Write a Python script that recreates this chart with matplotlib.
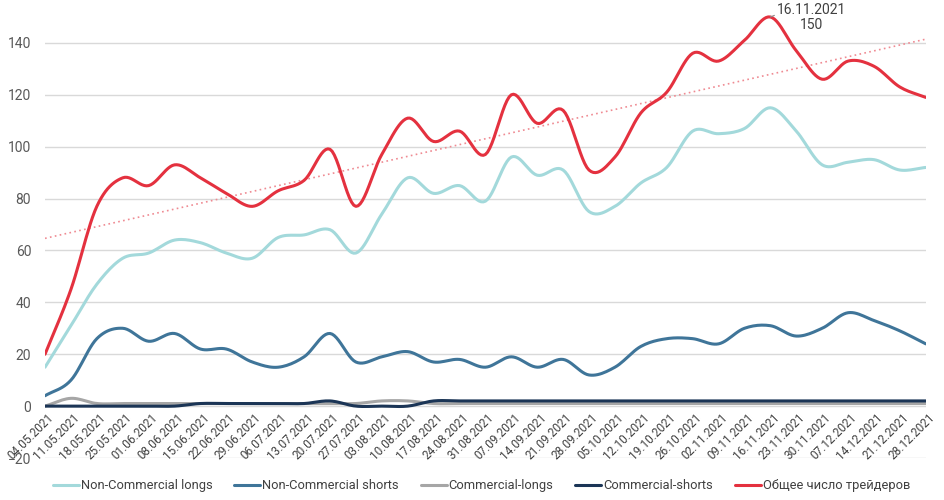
import matplotlib
matplotlib.use("Agg")
import matplotlib.pyplot as plt
import numpy as np

plt.rcParams['font.family'] = ['Roboto', 'DejaVu Sans']

# --- data ---
dates = ['04.05.2021', '11.05.2021', '18.05.2021', '25.05.2021', '01.06.2021',
         '08.06.2021', '15.06.2021', '22.06.2021', '29.06.2021', '06.07.2021',
         '13.07.2021', '20.07.2021', '27.07.2021', '03.08.2021', '10.08.2021',
         '17.08.2021', '24.08.2021', '31.08.2021', '07.09.2021', '14.09.2021',
         '21.09.2021', '28.09.2021', '05.10.2021', '12.10.2021', '19.10.2021',
         '26.10.2021', '02.11.2021', '09.11.2021', '16.11.2021', '23.11.2021',
         '30.11.2021', '07.12.2021', '14.12.2021', '21.12.2021', '28.12.2021']

nc_longs = [15, 31, 47, 57, 59, 64, 63, 59, 57, 65, 66, 68, 59, 74, 88, 82, 85, 79,
            96, 89, 91, 75, 77, 86, 92, 106, 105, 107, 115, 106, 93, 94, 95, 91, 92]
nc_shorts = [4, 10, 26, 30, 25, 28, 22, 22, 17, 15, 19, 28, 17, 19, 21, 17, 18, 15,
             19, 15, 18, 12, 15, 23, 26, 26, 24, 30, 31, 27, 30, 36, 33, 29, 24]
c_longs = [0, 3, 1, 1, 1, 1, 1, 1, 1, 1, 1, 1, 1, 2, 2, 1, 1, 1,
           1, 1, 1, 1, 1, 1, 1, 1, 1, 1, 1, 1, 1, 1, 1, 1, 1]
c_shorts = [0, 0, 0, 0, 0, 0, 1, 1, 1, 1, 1, 2, 0, 0, 0, 2, 2, 2,
            2, 2, 2, 2, 2, 2, 2, 2, 2, 2, 2, 2, 2, 2, 2, 2, 2]
total = [20, 45, 77, 88, 85, 93, 88, 82, 77, 83, 87, 99, 77, 97, 111, 102, 106, 97,
         120, 109, 114, 91, 96, 113, 121, 136, 133, 141, 150, 137, 126, 133, 131, 123, 119]

peak_label = '16.11.2021\n150'


def smooth(x, y, n=12):
    # Catmull-Rom curve through the points, like Excel's smoothed line
    x = np.asarray(x, float)
    y = np.asarray(y, float)
    px = np.concatenate([[2 * x[0] - x[1]], x, [2 * x[-1] - x[-2]]])
    py = np.concatenate([[2 * y[0] - y[1]], y, [2 * y[-1] - y[-2]]])
    xs, ys = [], []
    t = np.linspace(0, 1, n, endpoint=False)
    for i in range(1, len(px) - 2):
        for p, out in ((px, xs), (py, ys)):
            p0, p1, p2, p3 = p[i - 1], p[i], p[i + 1], p[i + 2]
            out.append(0.5 * (2 * p1 + (-p0 + p2) * t
                              + (2 * p0 - 5 * p1 + 4 * p2 - p3) * t ** 2
                              + (-p0 + 3 * p1 - 3 * p2 + p3) * t ** 3))
    xs = np.concatenate(xs + [[x[-1]]])
    ys = np.concatenate(ys + [[y[-1]]])
    return xs, ys


fig = plt.figure(figsize=(9.44, 5), dpi=100)
ax = fig.add_axes([0.0477, 0.084, 0.933, 0.908])

x = np.arange(len(dates))
series = [
    (nc_longs, '#a3d9db', 'Non-Commercial longs'),
    (nc_shorts, '#3f7599', 'Non-Commercial shorts'),
    (c_longs, '#a6a6a6', 'Commercial-longs'),
    (c_shorts, '#1b3556', 'Commercial-shorts'),
    (total, '#e4313f', 'Общее число трейдеров'),
]
for vals, col, lab in series:
    sx, sy = smooth(x, vals)
    ax.plot(sx, sy, color=col, lw=2.2, label=lab, solid_capstyle='round', zorder=3)

# linear trend of total traders
k, b = np.polyfit(x, total, 1)
ax.plot(x, k * x + b, color='#ef8a92', lw=1.2, ls=(0, (1, 2)), zorder=2)

# peak annotation
ipk = int(np.argmax(total))
ax.annotate(peak_label, xy=(ipk, total[ipk]), xytext=(ipk + 1.6, total[ipk] - 0.3),
            ha='center', va='center', fontsize=10, color='#404040', linespacing=1.1,
            arrowprops=dict(arrowstyle='-', color='#8c8c8c', lw=0.8,
                            shrinkA=0, shrinkB=0, relpos=(0, 0.62)))

ax.set_xlim(0, len(dates) - 1)
ax.set_ylim(-20, 155)
ax.set_yticks(np.arange(-20, 141, 20))
ax.grid(axis='y', color='#d9d9d9', lw=1)
ax.set_axisbelow(True)
for s in ax.spines.values():
    s.set_visible(False)
ax.tick_params(axis='y', length=0, labelsize=10, labelcolor='#595959', pad=10)
ax.set_xticks([])

# category labels hang just under the zero line, rotated 45 degrees
for xi, d in zip(x, dates):
    ax.annotate(d, xy=(xi, 0), xytext=(5, -7), textcoords='offset points',
                rotation=45, ha='right', va='center', rotation_mode='anchor',
                fontsize=8.5, color='#404040', zorder=4)

fig.legend(loc='lower center', bbox_to_anchor=(0.51, -0.008), ncol=5, frameon=False,
           fontsize=9.3, handlelength=2.0, handletextpad=0.15, columnspacing=1.7,
           labelcolor='#404040')

fig.savefig('out.png', dpi=100)
